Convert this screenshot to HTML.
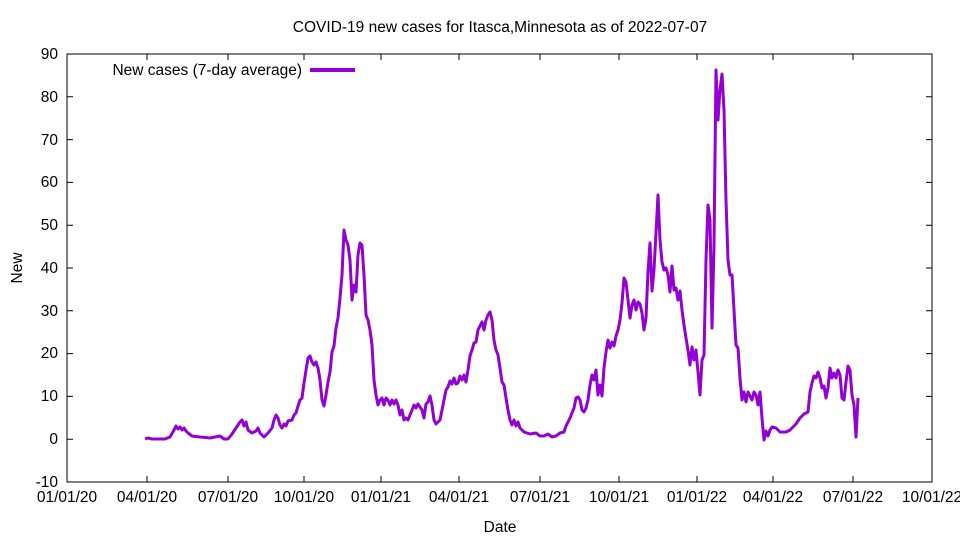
<!DOCTYPE html>
<html><head><meta charset="utf-8"><style>
body{margin:0;background:#fff}
text{font-family:"Liberation Sans",sans-serif;font-size:15.5px;fill:#000}
</style></head><body>
<svg width="960" height="540" xmlns="http://www.w3.org/2000/svg">
<rect width="960" height="540" fill="#fff"/>
<text x="500" y="32" text-anchor="middle">COVID-19 new cases for Itasca,Minnesota as of 2022-07-07</text>
<g stroke="#000" stroke-width="1">
<rect x="67" y="54" width="865" height="428" fill="none"/>
<path d="M67,482h6M67,439.2h6M67,396.4h6M67,353.6h6M67,310.8h6M67,268h6M67,225.2h6M67,182.4h6M67,139.6h6M67,96.8h6M67,54h6
M932,482h-6M932,439.2h-6M932,396.4h-6M932,353.6h-6M932,310.8h-6M932,268h-6M932,225.2h-6M932,182.4h-6M932,139.6h-6M932,96.8h-6M932,54h-6
M67,482v-6M147,482v-6M228,482v-6M304,482v-6M381,482v-6M459,482v-6M540,482v-6M619,482v-6M697,482v-6M773,482v-6M853,482v-6M932,482v-6
M67,54v6M147,54v6M228,54v6M304,54v6M381,54v6M459,54v6M540,54v6M619,54v6M697,54v6M773,54v6M853,54v6M932,54v6"/>
</g>
<g text-anchor="end">
<text x="58" y="487">-10</text><text x="58" y="444">0</text><text x="58" y="401">10</text><text x="58" y="358">20</text><text x="58" y="316">30</text><text x="58" y="273">40</text><text x="58" y="230">50</text><text x="58" y="187">60</text><text x="58" y="145">70</text><text x="58" y="102">80</text><text x="58" y="59">90</text>
</g>
<g text-anchor="middle">
<text x="67" y="502">01/01/20</text><text x="147" y="502">04/01/20</text><text x="228" y="502">07/01/20</text><text x="304" y="502">10/01/20</text><text x="381" y="502">01/01/21</text><text x="459" y="502">04/01/21</text><text x="540" y="502">07/01/21</text><text x="619" y="502">10/01/21</text><text x="697" y="502">01/01/22</text><text x="773" y="502">04/01/22</text><text x="853" y="502">07/01/22</text><text x="932" y="502">10/01/22</text>
<text x="500" y="532">Date</text>
</g>
<text transform="translate(22,268) rotate(-90)" text-anchor="middle">New</text>
<text x="302" y="75" text-anchor="end">New cases (7-day average)</text>
<line x1="310" y1="70" x2="355" y2="70" stroke="#9400d3" stroke-width="4"/>
<polyline fill="none" stroke="#9400d3" stroke-width="3" stroke-linejoin="round" points="145,439 148,438 152,439 165,439 170,437 174,430 176,426 178,429 180,427 182,430 184,428 186,431 188,433 192,436 200,437 210,438 215,437 220,436 224,439 228,439 232,434 236,428 240,422 242,420 244,426 246,422 248,430 252,433 256,431 258,428 260,433 264,437 268,433 272,428 274,420 276,415 278,418 280,425 282,428 284,424 286,426 288,421 292,420 294,415 296,413 298,406 300,400 302,398 304,383 308,358 310,356 312,362 314,365 316,362 318,368 320,380 322,400 324,406 326,395 328,382 330,372 332,352 334,346 336,328 338,318 340,298 342,275 344,230 346,240 348,245 350,260 352,300 354,285 356,292 358,255 360,243 362,245 364,275 366,315 368,320 370,330 372,345 374,380 376,395 378,405 380,400 382,398 384,405 386,398 388,400 390,405 392,400 394,404 396,400 398,405 400,415 402,410 404,420 406,418 408,420 412,410 414,405 416,408 418,404 420,407 422,410 424,418 426,404 428,402 430,396 432,405 434,420 436,424 440,420 442,410 444,400 446,390 448,387 450,381 452,384 454,378 456,384 458,383 460,376 462,380 464,375 466,382 468,370 470,356 472,350 474,343 476,342 478,330 480,326 482,322 484,330 486,320 488,315 490,312 492,320 494,340 496,350 498,355 500,368 502,382 504,385 506,398 508,410 510,420 512,425 514,420 516,426 518,422 520,428 524,432 530,434 536,433 540,436 544,436 548,434 552,437 556,436 560,433 564,432 566,426 570,418 574,408 576,398 578,397 580,400 582,410 584,412 586,408 588,400 590,385 592,375 594,380 596,370 598,395 600,385 602,396 604,368 606,352 608,340 610,348 612,342 614,346 616,336 618,330 620,320 622,303 624,278 626,282 628,300 630,318 632,305 634,300 636,310 638,302 640,304 642,313 644,330 646,318 648,272 650,243 652,291 654,270 656,233 658,195 660,240 662,262 664,270 666,268 668,275 670,292 672,266 674,290 676,288 678,300 680,291 682,310 684,325 686,338 688,350 690,365 692,347 694,360 696,350 698,372 700,395 702,360 704,355 706,260 708,205 710,220 712,328 714,245 716,70 718,120 720,90 722,74 724,110 726,200 728,260 730,275 732,275 734,310 736,345 738,348 740,378 742,400 744,392 746,402 748,392 750,396 752,400 754,392 756,395 758,405 760,392 762,418 764,440 766,431 768,436 770,430 772,427 776,428 780,432 786,432 790,430 796,424 800,418 804,414 808,412 810,392 812,383 814,376 816,378 818,372 820,378 822,388 824,386 826,398 828,388 830,368 832,378 834,373 836,378 838,370 840,375 842,398 844,400 846,382 848,366 850,370 852,395 854,405 856,437 858,398"/>
</svg>
</body></html>
